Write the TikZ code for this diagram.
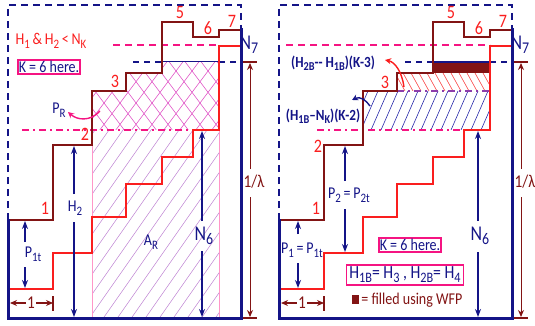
\documentclass[tikz,border=0pt]{standalone}
\usepackage{fontspec}
\setmainfont{Carlito}[FakeStretch=0.85]
\usetikzlibrary{arrows.meta}
\definecolor{navy}{RGB}{20,20,135}
\definecolor{maroonc}{RGB}{130,20,20}
\definecolor{redc}{RGB}{250,30,30}
\definecolor{pinkc}{RGB}{245,20,130}
\definecolor{hatchpink}{RGB}{225,90,200}
\definecolor{hatchpurple}{RGB}{190,130,210}
\definecolor{lightpink}{RGB}{255,150,200}
\definecolor{hatchred}{RGB}{250,70,70}
\definecolor{hatchblue}{RGB}{40,40,170}
\definecolor{purpc}{RGB}{140,60,170}
\newcommand\sub[1]{\raisebox{-0.45ex}{\scalebox{0.78}{#1}}}
\tikzset{
  lab/.style={font=\fontsize{16.5}{18}\selectfont, inner sep=1pt},
  steplab/.style={font=\fontsize{19}{21}\selectfont, inner sep=1pt, text=redc},
  navylab/.style={lab, text=navy},
  biglab/.style={font=\fontsize{21}{23}\selectfont, text=navy, inner sep=1pt},
  boldlab/.style={font=\bfseries\fontsize{15.5}{17}\selectfont, text=navy, inner sep=1pt},
  pinkbox/.style={draw=pinkc, line width=1.5pt, inner xsep=3pt, inner ysep=2pt, text=navy},
  solidframe/.style={navy, line width=3pt, line cap=rect},
  dashframe/.style={navy, line width=2.6pt, dash pattern=on 7pt off 5pt},
  brownstair/.style={maroonc, line width=1.8pt},
  redstair/.style={redc, line width=1.8pt},
  varrow/.style={draw=navy, line width=1.4pt, -{Stealth[length=8pt,width=6pt]}},
  marrow/.style={draw=maroonc, line width=1.8pt, -{Stealth[length=7pt,width=6pt]}},
  lamarrow/.style={draw=maroonc, line width=1pt, -{Stealth[length=7pt,width=6pt]}},
  pinkdash/.style={pinkc, line width=1.6pt, dash pattern=on 7pt off 5pt},
  pinkdashdot/.style={pinkc, line width=1.6pt, dash pattern=on 7pt off 4pt on 2pt off 4pt},
  navydash/.style={navy, line width=1.6pt, dash pattern=on 6pt off 5pt},
}
% common part of each panel, #1 = name prefix
\newcommand\panelcommon[1]{%
  \draw[brownstair] (8,220) -- (53,220) -- (53,145) -- (92,145) -- (92,91) -- (126,91) -- (126,73) -- (162,73) -- (162,22) -- (193,22) -- (193,37) -- (219,37) -- (219,30) -- (241,30);
  \draw[redstair] (8,289) -- (53,289) -- (53,253) -- (92,253) -- (92,217) -- (126,217) -- (126,184) -- (162,184) -- (162,157) -- (193,157) -- (193,130) -- (219,130) -- (219,46) -- (241,46);
  \draw[dashframe] (8,220) -- (8,5) -- (241,5) -- (241,30);
  \draw[solidframe] (241,30) -- (241,318) -- (8,318) -- (8,220);
  \node[steplab] (#1s1) at (45,208) {1};
  \node[steplab] (#1s5) at (180,12) {5};
  \node[steplab] (#1s6) at (208,28) {6};
  \node[steplab] (#1s7) at (232,21) {7};
  \node[lab, text=maroonc, font=\fontsize{18}{20}\selectfont] (#1w) at (31,303) {1};
  \coordinate (#1wl) at (10,303);
  \coordinate (#1wr) at (53,303);
  \draw[marrow] (#1w) -- (#1wl);
  \draw[marrow] (#1w) -- (#1wr);
  \draw[maroonc, line width=1.5pt] (53,296) -- (53,311);
  \node[biglab] (#1n7) at (249,45) {N\sub{7}};
  \node[lab, text=maroonc, font=\fontsize{18}{20}\selectfont] (#1lam) at (254,182) {1/λ};
  \coordinate (#1lamt) at (250,63);
  \coordinate (#1lamb) at (250,317);
  \coordinate (#1lamga) at (250,169);
  \coordinate (#1lamgb) at (250,197);
  \draw[lamarrow] (#1lamga) -- (#1lamt);
  \draw[lamarrow] (#1lamgb) -- (#1lamb);
  \draw[maroonc, line width=1.2pt] (243,62) -- (257,62);
  \draw[maroonc, line width=1.2pt] (243,318) -- (257,318);
}
\begin{document}
\begin{tikzpicture}[x=1pt,y=-1pt]
\useasboundingbox (0,0) rectangle (535,326);
% ================= LEFT PANEL =================
\begin{scope}
  \clip (92,130) rectangle (219,317);
  \foreach \i in {-80,-66,...,240} \draw[hatchpurple, line width=0.5pt] (\i,320) -- ++(140,-200);
\end{scope}
\draw[lightpink, line width=0.8pt] (92,145) -- (92,317);
\draw[lightpink, line width=0.8pt] (219,130) -- (219,317);
\begin{scope}
  \clip (92,130) -- (92,91) -- (126,91) -- (126,73) -- (162,73) -- (162,62) -- (219,62) -- (219,130) -- cycle;
  \foreach \i in {0,16,...,300} {
    \draw[hatchpink, line width=0.6pt] (\i,135) -- ++(60,-80);
    \draw[hatchpink, line width=0.6pt] (\i,135) -- ++(-60,-80);
  }
\end{scope}
\draw[pinkdash] (113,45) -- (219,45);
\draw[pinkdashdot] (22,130) -- (193,130);
\draw[navydash] (133,62) -- (162,62);
\draw[navydash] (219,62) -- (241,62);
\draw[navy, line width=1pt] (162,62) -- (219,62);
\panelcommon{L}
\node[steplab] (Ls2) at (85,134) {2};
\node[steplab] (Ls3) at (115,81) {3};
\node[lab, text=redc] (Lhk) at (51,41) {H\sub{1}\,\&\,H\sub{2}\,<\,N\sub{K}};
\node[pinkbox, lab] (Lk6) at (49,67) {K = 6 here.};
\node[navylab] (Lpr) at (59,110) {P\sub{R}};
\coordinate (Lprs) at (100,111);
\coordinate (Lpre) at (68,112);
\draw[pinkc, line width=1.4pt, -{Stealth[length=6pt,width=6pt]}] (Lprs) .. controls (90,122) and (77,120) .. (Lpre);
\node[navylab] (Lar) at (151,242) {A\sub{R}};
\node[navylab] (Lh2) at (75,208) {H\sub{2}};
\coordinate (Lh2t) at (74,146);
\coordinate (Lh2b) at (74,317);
\coordinate (Lh2a) at (74,194);
\coordinate (Lh2c) at (74,222);
\draw[varrow] (Lh2a) -- (Lh2t);
\draw[varrow] (Lh2c) -- (Lh2b);
\node[navylab] (Lp1) at (33,254) {P\sub{1t}};
\coordinate (Lp1a) at (25,242);
\coordinate (Lp1b) at (25,267);
\coordinate (Lp1t) at (25,221);
\coordinate (Lp1d) at (25,288);
\draw[varrow] (Lp1a) -- (Lp1t);
\draw[varrow] (Lp1b) -- (Lp1d);
\node[biglab] (Ln6) at (204,236) {N\sub{6}};
\coordinate (Ln6t) at (202,131);
\coordinate (Ln6b) at (202,317);
\coordinate (Ln6a) at (202,221);
\coordinate (Ln6c) at (202,251);
\draw[varrow] (Ln6a) -- (Ln6t);
\draw[varrow] (Ln6c) -- (Ln6b);
% ================= RIGHT PANEL =================
\begin{scope}[xshift=271pt]
  \begin{scope}
    \clip (127,73) rectangle (219,91);
    \foreach \i in {100,108,...,230} \draw[hatchred, line width=0.6pt] (\i,73) -- ++(10,18);
  \end{scope}
  \begin{scope}
    \clip (92,91) rectangle (219,130);
    \foreach \i in {70,80,...,230} \draw[hatchblue, line width=0.6pt] (\i,130) -- ++(17,-39);
  \end{scope}
  \fill[maroonc] (162,62) rectangle (219,73);
  \draw[pinkdash] (15,45) -- (219,45);
  \draw[pinkdashdot] (46,130) -- (193,130);
  \draw[purpc, line width=1.6pt, dash pattern=on 7pt off 4pt on 2pt off 4pt] (92,91) -- (219,91);
  \draw[navydash] (134,62) -- (162,62);
  \draw[navydash] (219,62) -- (241,62);
  \draw[navy, line width=1.4pt] (162,62) -- (219,62);
  \panelcommon{R}
  \node[steplab] (Rs2) at (47,146) {2};
  \node[steplab] (Rs3) at (114,82) {3};
  \node[boldlab] (Rhh) at (62,63) {(H\sub{2B}-{}- H\sub{1B})(K-3)};
  \coordinate (Rhhs) at (133,87);
  \coordinate (Rhhe) at (114,60);
  \draw[redc, line width=1.4pt, -{Stealth[length=6pt,width=6pt]}] (Rhhs) .. controls (131,72) and (124,62) .. (Rhhe);
  \node[boldlab] (Rhn) at (52,116) {(H\sub{1B}–N\sub{K})(K-2)};
  \coordinate (Rhns) at (99,106);
  \coordinate (Rhne) at (81,100);
  \draw[navy, line width=1.4pt, -{Stealth[length=6pt,width=6pt]}] (Rhns) .. controls (95,100) and (89,96) .. (Rhne);
  \node[pinkbox, lab] (Rk6) at (139,245) {K = 6 here.};
  \node[pinkbox, font=\fontsize{18.5}{20}\selectfont] (Rhb) at (134,275) {H\sub{1B}= H\sub{3} , H\sub{2B}= H\sub{4}};
  \node[lab, text=maroonc] (Rwfp) at (136,300) {\rule{7pt}{9pt}\,= filled using WFP};
  \node[navylab] (Rp2) at (78,195) {P\sub{2}\,=\,P\sub{2t}};
  \coordinate (Rp2a) at (74,181);
  \coordinate (Rp2b) at (74,209);
  \coordinate (Rp2t) at (74,146);
  \coordinate (Rp2d) at (74,252);
  \draw[varrow] (Rp2a) -- (Rp2t);
  \draw[varrow] (Rp2b) -- (Rp2d);
  \node[navylab] (Rp1) at (31,250) {P\sub{1}\,=\,P\sub{1t}};
  \coordinate (Rp1a) at (27,234);
  \coordinate (Rp1b) at (27,263);
  \coordinate (Rp1t) at (27,221);
  \coordinate (Rp1d) at (27,288);
  \draw[varrow] (Rp1a) -- (Rp1t);
  \draw[varrow] (Rp1b) -- (Rp1d);
  \node[biglab] (Rn6) at (209,236) {N\sub{6}};
  \coordinate (Rn6t) at (207,131);
  \coordinate (Rn6b) at (207,317);
  \coordinate (Rn6a) at (207,221);
  \coordinate (Rn6c) at (207,252);
  \draw[varrow] (Rn6a) -- (Rn6t);
  \draw[varrow] (Rn6c) -- (Rn6b);
\end{scope}
\end{tikzpicture}
\end{document}
